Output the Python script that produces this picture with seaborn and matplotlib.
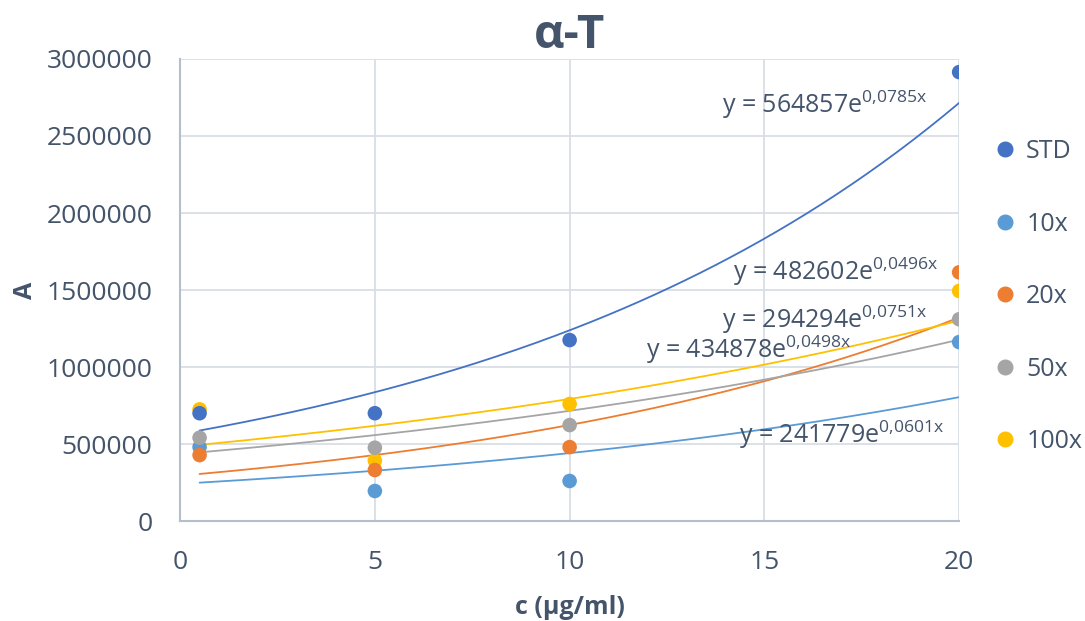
import numpy as np
import pandas as pd
import seaborn as sns
import matplotlib.pyplot as plt

# data
conc = [0.5, 5, 10, 20]
std = [700000, 700000, 1175000, 2915000]
x10 = [480000, 195000, 260000, 1162000]
x20 = [428000, 331000, 480000, 1615000]
x50 = [541000, 476000, 623000, 1310000]
x100 = [725000, 392000, 760000, 1494000]

series = ["STD", "10x", "20x", "50x", "100x"]
colors = ["#4472C4", "#5B9BD5", "#ED7D31", "#A5A5A5", "#FFC000"]

# exponential trendline coefficients (y = a * e^(b x)) as printed on the chart
fit_a = [564857, 241779, 294294, 434878, 482602]
fit_b = [0.0785, 0.0601, 0.0751, 0.0498, 0.0496]
fit_text = ["564857e", "241779e", "294294e", "434878e", "482602e"]
fit_exp = ["0{,}0785x", "0{,}0601x", "0{,}0751x", "0{,}0498x", "0{,}0496x"]
# where the equation labels sit (data coords, left edge / vertical centre)
label_x = [13.9, 14.35, 13.9, 11.95, 14.2]
label_y = [2700000, 560000, 1305000, 1110000, 1617000]

txt = "#44546A"
sns.set_theme(style="white")
plt.rcParams["font.family"] = ["Open Sans", "DejaVu Sans"]
plt.rcParams["mathtext.default"] = "regular"

rows = []
for name, vals in zip(series, [std, x10, x20, x50, x100]):
    for c, v in zip(conc, vals):
        rows.append({"c": c, "A": v, "series": name})
df = pd.DataFrame(rows)
# draw order so that STD sits on top of 100x like in the original
order = ["100x", "10x", "20x", "50x", "STD"]
df["ord"] = df["series"].map({s: i for i, s in enumerate(order)})
df = df.sort_values("ord")

fig = plt.figure(figsize=(10.85, 6.21), dpi=100)
ax = fig.add_axes([0.166, 0.161, 0.718, 0.744])

xs = np.linspace(0.5, 20, 200)
for a, b, col in zip(fit_a, fit_b, colors):
    ax.plot(xs, a * np.exp(b * xs), color=col, lw=1.3, zorder=2)

sns.scatterplot(data=df, x="c", y="A", hue="series", hue_order=series,
                palette=colors, s=110, edgecolor="none", ax=ax, zorder=3)

for t, e, lx, ly in zip(fit_text, fit_exp, label_x, label_y):
    ax.text(lx, ly, "y = " + t + "$^{" + e + "}$", fontsize=18, color=txt,
            va="center", ha="left", zorder=4)

ax.set_xlim(0, 20)
ax.set_ylim(0, 3000000)
ax.set_xticks([0, 5, 10, 15, 20])
ax.set_yticks(np.arange(0, 3000001, 500000))
ax.yaxis.set_major_formatter(plt.FuncFormatter(lambda v, p: f"{int(v)}"))
ax.grid(True, color="#D9DEE6", lw=1.3)
for sp in ["top", "right"]:
    ax.spines[sp].set_visible(False)
for sp in ["left", "bottom"]:
    ax.spines[sp].set_color("#B4BECC")
    ax.spines[sp].set_linewidth(1.5)
ax.tick_params(axis="both", labelsize=19, colors=txt, length=0)
ax.tick_params(axis="y", pad=20)
ax.tick_params(axis="x", pad=21)

ax.set_title("α-T", fontsize=34, fontweight="bold", color=txt, pad=8)
ax.set_xlabel("c (µg/ml)", fontsize=18, fontweight="bold", color=txt, labelpad=14)
ax.set_ylabel("A", fontsize=18, fontweight="bold", color=txt, labelpad=6)

ax.legend_.remove()
handles = [plt.Line2D([], [], marker="o", ls="none", color=c, markersize=10.5)
           for c in colors]
leg = fig.legend(handles, series, loc="upper left", bbox_to_anchor=(0.894, 0.812),
                 frameon=False, fontsize=18, labelspacing=1.9, handletextpad=0.35,
                 handlelength=1.0)
for t in leg.get_texts():
    t.set_color(txt)

fig.savefig("out.png", dpi=100)
